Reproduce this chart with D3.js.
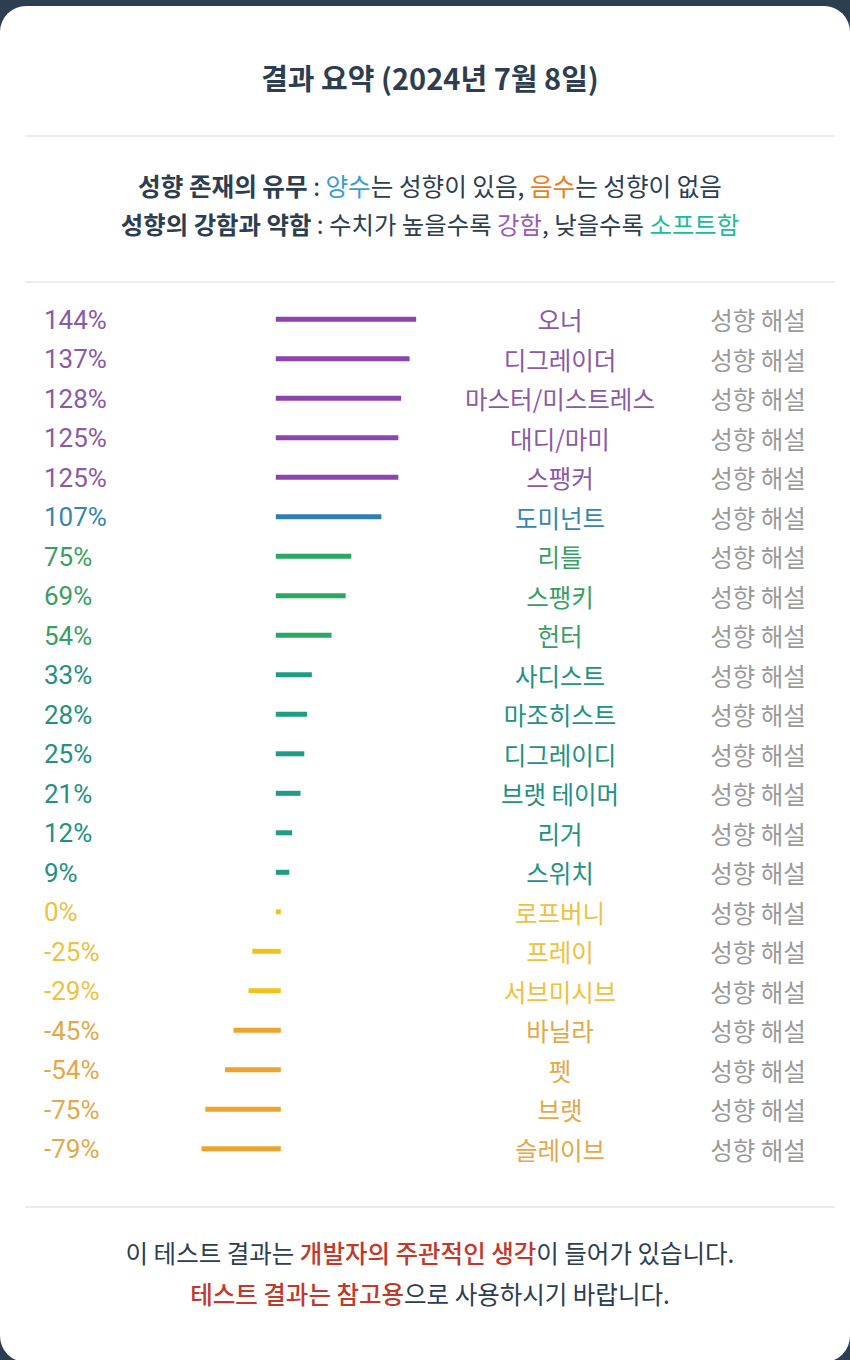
<!DOCTYPE html>
<html>
<head>
<meta charset="utf-8">
<script src="https://cdn.jsdelivr.net/npm/d3@7"></script>
<style>
  html, body { margin: 0; padding: 0; background: #2c3e50; }
  svg { display: block; }
</style>
</head>
<body>
<svg id="chart" width="850" height="1360"></svg>
<script>
// ---- data ----
const categories = ["오너","디그레이더","마스터/미스트레스","대디/마미","스팽커","도미넌트","리틀","스팽키","헌터","사디스트","마조히스트","디그레이디","브랫 테이머","리거","스위치","로프버니","프레이","서브미시브","바닐라","펫","브랫","슬레이브"];
const values = [144,137,128,125,125,107,75,69,54,33,28,25,21,12,9,0,-25,-29,-45,-54,-75,-79];
const linkLabel = "성향 해설";
const title = "결과 요약 (2024년 7월 8일)";
const legendLine1 = [["성향 존재의 유무","bold","ink"],[" : ","normal","ink"],["양수","normal","blue"],["는 성향이 있음, ","normal","ink"],["음수","normal","orange"],["는 성향이 없음","normal","ink"]];
const legendLine2 = [["성향의 강함과 약함","bold","ink"],[" : 수치가 높을수록 ","normal","ink"],["강함","normal","purple"],[", 낮을수록 ","normal","ink"],["소프트함","normal","teal"]];
const footLine1 = [["이 테스트 결과는 ","normal","ink"],["개발자의 주관적인 생각","500","red"],["이 들어가 있습니다.","normal","ink"]];
const footLine2 = [["테스트 결과는 참고용","500","red"],["으로 사용하시기 바랍니다.","normal","ink"]];

// ---- styles ----
const textCol = {ink:"#2c3e50", blue:"#3d9ad1", orange:"#e67e22", purple:"#9b59b6", teal:"#1abc9c", red:"#c0392b"};
const groupOf = d3.scaleThreshold().domain([-30, 1, 50, 100, 110])
  .range(["orange","yellow","teal","green","blue","purple"]);
const barCol = {orange:"#eda32e", yellow:"#f1c21b", teal:"#1e9c85", green:"#2aa862", blue:"#2f7fae", purple:"#8e44ad"};
const labCol = {orange:"#e3a84a", yellow:"#ecc23e", teal:"#23917f", green:"#3a9e63", blue:"#3686ad", purple:"#8a5aa5"};

const svg = d3.select("#chart");
const W = 850, H = 1360;
const KR = "'Noto Sans CJK KR', 'Noto Sans', sans-serif";

// card
svg.append("rect").attr("x",0).attr("y",6).attr("width",W).attr("height",H-4)
  .attr("rx",26).attr("fill","#ffffff");

// title
svg.append("text").attr("x",430).attr("y",90).attr("text-anchor","middle")
  .attr("font-family",KR).attr("font-weight","bold").attr("font-size",29)
  .attr("fill","#2c3e50").text(title);

// dividers
[136, 282, 1207].forEach(y => {
  svg.append("line").attr("x1",25).attr("x2",835).attr("y1",y).attr("y2",y)
    .attr("stroke","#ececec").attr("stroke-width",2);
});

function richLine(parts, y, size) {
  const t = svg.append("text").attr("x",430).attr("y",y).attr("text-anchor","middle")
    .attr("font-family",KR).attr("font-size",size);
  parts.forEach(p => {
    t.append("tspan").attr("font-weight",p[1]).attr("fill",textCol[p[2]]).text(p[0]);
  });
}
richLine(legendLine1, 196, 24.6);
richLine(legendLine2, 234, 24.4);
richLine(footLine1, 1263, 24.5);
richLine(footLine2, 1304, 24.5);

// scales
const y = d3.scalePoint().domain(d3.range(categories.length)).range([319.3, 1148.8]);
const x = d3.scaleLinear().domain([0, 100]).range([278.3, 372.3]);

const rows = svg.append("g").selectAll("g").data(values.map((v,i)=>({v, i, name:categories[i], g:groupOf(v)})))
  .join("g");

rows.append("line")
  .attr("x1", x(0)).attr("x2", d => x(d.v))
  .attr("y1", d => y(d.i)).attr("y2", d => y(d.i))
  .attr("stroke", d => barCol[d.g]).attr("stroke-width",5).attr("stroke-linecap","square");

rows.append("text")
  .attr("x",44).attr("y", d => y(d.i)).attr("dy","0.36em")
  .attr("font-family","Roboto, sans-serif").attr("font-size",26)
  .attr("fill", d => labCol[d.g]).text(d => d.v + "%");

rows.append("text")
  .attr("x",560).attr("y", d => y(d.i) + 2).attr("dy","0.36em").attr("text-anchor","middle")
  .attr("font-family",KR).attr("font-size",24.5)
  .attr("fill", d => labCol[d.g]).text(d => d.name);

rows.append("text")
  .attr("x",758).attr("y", d => y(d.i) + 2).attr("dy","0.36em").attr("text-anchor","middle")
  .attr("font-family",KR).attr("font-size",24.5)
  .attr("fill","#9a9a9a").text(linkLabel);
</script>
</body>
</html>
